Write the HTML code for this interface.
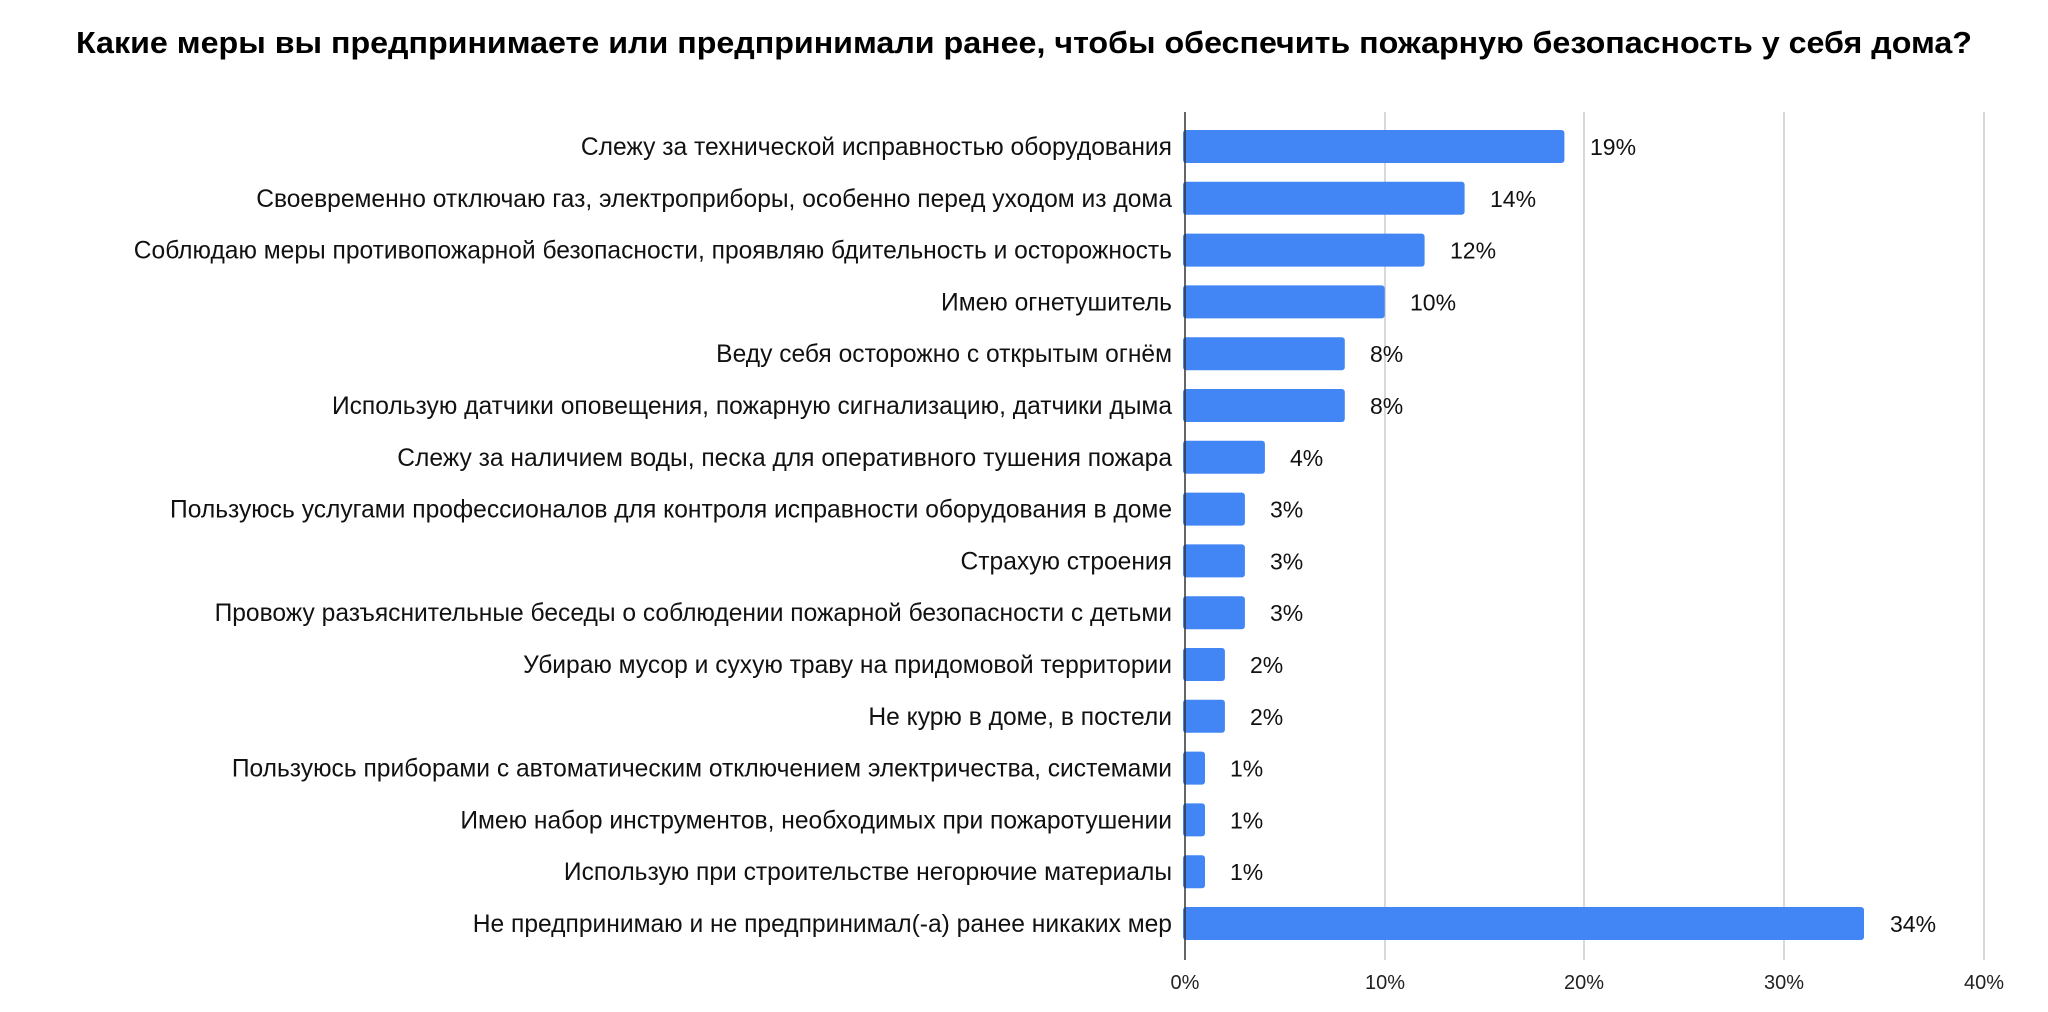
<!DOCTYPE html>
<html><head><meta charset="utf-8"><style>html,body{margin:0;padding:0;background:#fff}svg{display:block}</style></head>
<body>
<svg width="2048" height="1012" xmlns="http://www.w3.org/2000/svg" font-family="Liberation Sans, Arial, sans-serif">
<rect width="2048" height="1012" fill="#fff"/>
<text x="76" y="53" font-size="31" font-weight="bold" fill="#000" textLength="1896" lengthAdjust="spacingAndGlyphs">Какие меры вы предпринимаете или предпринимали ранее, чтобы обеспечить пожарную безопасность у себя дома?</text>
<g stroke="#cccccc" stroke-width="1.5">
<line x1="1385" y1="112" x2="1385" y2="960"/>
<line x1="1584" y1="112" x2="1584" y2="960"/>
<line x1="1784" y1="112" x2="1784" y2="960"/>
<line x1="1984" y1="112" x2="1984" y2="960"/>
</g>
<g font-size="20" fill="#222" text-anchor="middle">
<text x="1185" y="989">0%</text><text x="1385" y="989">10%</text><text x="1584" y="989">20%</text><text x="1784" y="989">30%</text><text x="1984" y="989">40%</text>
</g>
<g fill="#4285f4">
<rect x="1183" y="130" width="381.4" height="33" rx="3"/>
<rect x="1183" y="181.8" width="281.6" height="33" rx="3"/>
<rect x="1183" y="233.6" width="241.6" height="33" rx="3"/>
<rect x="1183" y="285.4" width="201.7" height="33" rx="3"/>
<rect x="1183" y="337.2" width="161.8" height="33" rx="3"/>
<rect x="1183" y="389" width="161.8" height="33" rx="3"/>
<rect x="1183" y="440.8" width="81.9" height="33" rx="3"/>
<rect x="1183" y="492.6" width="61.9" height="33" rx="3"/>
<rect x="1183" y="544.4" width="61.9" height="33" rx="3"/>
<rect x="1183" y="596.2" width="61.9" height="33" rx="3"/>
<rect x="1183" y="648" width="41.9" height="33" rx="3"/>
<rect x="1183" y="699.8" width="41.9" height="33" rx="3"/>
<rect x="1183" y="751.6" width="22" height="33" rx="3"/>
<rect x="1183" y="803.4" width="22" height="33" rx="3"/>
<rect x="1183" y="855.2" width="22" height="33" rx="3"/>
<rect x="1183" y="907" width="681" height="33" rx="3"/>
</g>
<g font-size="24.6" fill="#111" text-anchor="end">
<text x="1172" y="155">Слежу за технической исправностью оборудования</text>
<text x="1172" y="206.8">Своевременно отключаю газ, электроприборы, особенно перед уходом из дома</text>
<text x="1172" y="258.6">Соблюдаю меры противопожарной безопасности, проявляю бдительность и осторожность</text>
<text x="1172" y="310.4">Имею огнетушитель</text>
<text x="1172" y="362.2">Веду себя осторожно с открытым огнём</text>
<text x="1172" y="414">Использую датчики оповещения, пожарную сигнализацию, датчики дыма</text>
<text x="1172" y="465.8">Слежу за наличием воды, песка для оперативного тушения пожара</text>
<text x="1172" y="517.6">Пользуюсь услугами профессионалов для контроля исправности оборудования в доме</text>
<text x="1172" y="569.4">Страхую строения</text>
<text x="1172" y="621.2">Провожу разъяснительные беседы о соблюдении пожарной безопасности с детьми</text>
<text x="1172" y="673">Убираю мусор и сухую траву на придомовой территории</text>
<text x="1172" y="724.8">Не курю в доме, в постели</text>
<text x="1172" y="776.6">Пользуюсь приборами с автоматическим отключением электричества, системами</text>
<text x="1172" y="828.4">Имею набор инструментов, необходимых при пожаротушении</text>
<text x="1172" y="880.2">Использую при строительстве негорючие материалы</text>
<text x="1172" y="932">Не предпринимаю и не предпринимал(-а) ранее никаких мер</text>
</g>
<g font-size="23" fill="#111">
<text x="1590" y="155">19%</text>
<text x="1490" y="206.8">14%</text>
<text x="1450" y="258.6">12%</text>
<text x="1410" y="310.4">10%</text>
<text x="1370" y="362.2">8%</text>
<text x="1370" y="414">8%</text>
<text x="1290" y="465.8">4%</text>
<text x="1270" y="517.6">3%</text>
<text x="1270" y="569.4">3%</text>
<text x="1270" y="621.2">3%</text>
<text x="1250" y="673">2%</text>
<text x="1250" y="724.8">2%</text>
<text x="1230" y="776.6">1%</text>
<text x="1230" y="828.4">1%</text>
<text x="1230" y="880.2">1%</text>
<text x="1890" y="932">34%</text>
</g>
<line x1="1185" y1="112" x2="1185" y2="960" stroke="#333" stroke-width="1.5"/>
</svg>
</body></html>
